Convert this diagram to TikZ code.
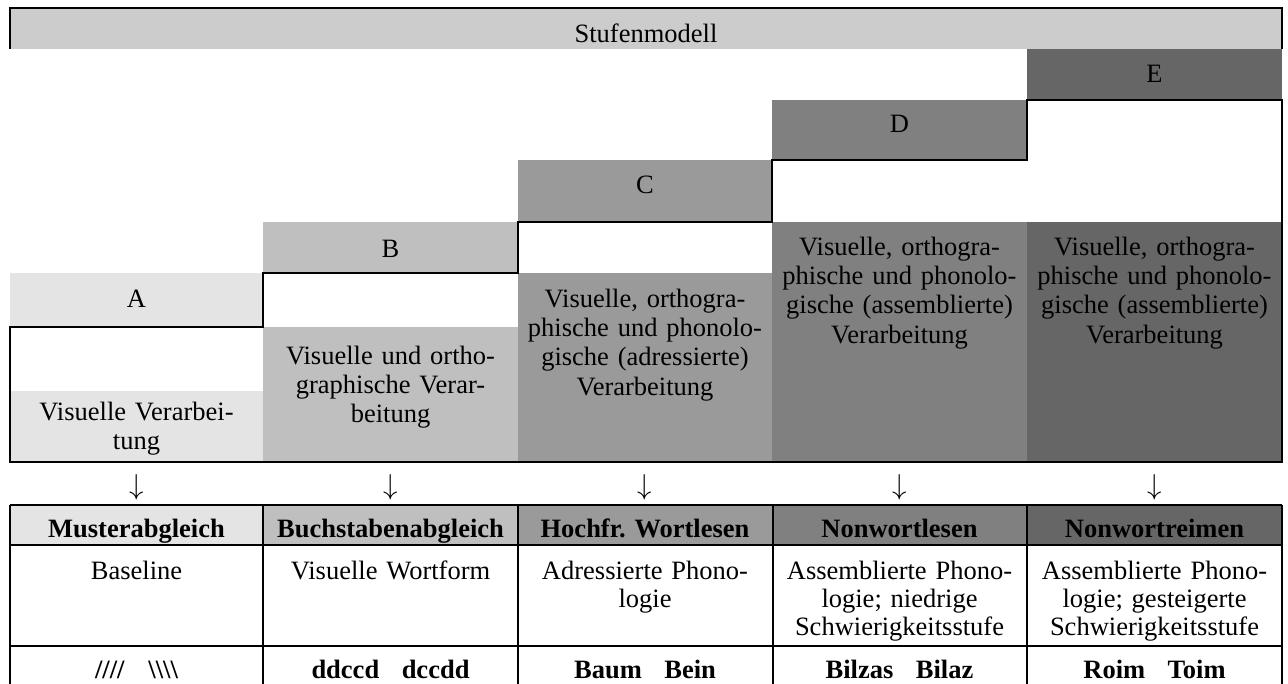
\documentclass[tikz,border=0pt]{standalone}
\usepackage{fontspec}
\setmainfont{Liberation Serif}
\definecolor{barTop}{HTML}{CCCCCC}
\definecolor{stA}{HTML}{E4E4E4}
\definecolor{stB}{HTML}{BFBFBF}
\definecolor{stC}{HTML}{9A9A9A}
\definecolor{stD}{HTML}{808080}
\definecolor{stE}{HTML}{666666}
\begin{document}
\begin{tikzpicture}[x=0.5pt,y=-0.5pt,
  txt/.style={font=\fontsize{13.25}{14.7}\selectfont, inner sep=0pt},
  cell/.style={txt, anchor=base, align=center, text width=124pt},
  tcell/.style={cell, font=\fontsize{13.25}{14.2}\selectfont},
  hcell/.style={txt, anchor=base, font=\fontsize{13.25}{14.7}\selectfont\bfseries},
  letter/.style={txt, anchor=base},
  arr/.style={inner sep=0pt, anchor=center, font=\fontsize{15.5}{16}\selectfont},
  frame/.style={line width=1pt, line join=miter},
  grid/.style={line width=1.2pt}]
\useasboundingbox (0,0) rectangle (1288,684);

% title bar
\fill[barTop] (10,8) rectangle (1282,49);
\draw[frame] (10,49) -- (10,8) -- (1282,8) -- (1282,49);
\node[letter] (title) at (646,43) {Stufenmodell};

% stair bars with their letters
\fill[stA] (10,273) rectangle (263,327);
\fill[stB] (263,222) rectangle (518,273);
\fill[stC] (518,160) rectangle (772,222);
\fill[stD] (772,100) rectangle (1027,160);
\fill[stE] (1027,49) rectangle (1282,100);

% processing areas
\fill[stA] (10,391) rectangle (263,462);
\fill[stB] (263,327) rectangle (518,462);
\fill[stC] (518,273) rectangle (772,462);
\fill[stD] (772,222) rectangle (1027,462);
\fill[stE] (1027,222) rectangle (1282,462);

% staircase outline
\draw[frame] (10,462) -- (10,327) -- (263,327) -- (263,273) -- (518,273)
  -- (518,222) -- (772,222) -- (772,160) -- (1027,160) -- (1027,100)
  -- (1282,100) -- (1282,462) -- cycle;

\node[letter] (lA) at (136.5,307) {A};
\node[letter] (lB) at (390.5,257) {B};
\node[letter] (lC) at (645,193) {C};
\node[letter] (lD) at (899.5,133) {D};
\node[letter] (lE) at (1154.5,83) {E};

\node[cell] (cA) at (136.5,420) {Visuelle Verarbei-\\tung};
\node[cell] (cB) at (390.5,364) {Visuelle und ortho-\\graphische Verar-\\beitung};
\node[cell] (cC) at (645,307) {Visuelle, orthogra-\\phische und phonolo-\\gische (adressierte)\\Verarbeitung};
\node[cell] (cD) at (899.5,255) {Visuelle, orthogra-\\phische und phonolo-\\gische (assemblierte)\\Verarbeitung};
\node[cell] (cE) at (1154.5,255) {Visuelle, orthogra-\\phische und phonolo-\\gische (assemblierte)\\Verarbeitung};

% downward arrows
\node[arr] (arA) at (136.5,487) {$\downarrow$};
\node[arr] (arB) at (390.5,487) {$\downarrow$};
\node[arr] (arC) at (645,487) {$\downarrow$};
\node[arr] (arD) at (899.5,487) {$\downarrow$};
\node[arr] (arE) at (1154.5,487) {$\downarrow$};

% task table
\fill[stA] (10,505) rectangle (263,545);
\fill[stB] (263,505) rectangle (518,545);
\fill[stC] (518,505) rectangle (773,545);
\fill[stD] (773,505) rectangle (1027,545);
\fill[stE] (1027,505) rectangle (1282,545);
\draw[grid] (10,505) -- (1282,505);
\draw[grid] (10,545) -- (1282,545);
\draw[grid] (10,646) -- (1282,646);
\foreach \gx in {10,263,518,773,1027,1282}
  \draw[grid] (\gx,505) -- (\gx,684);

\node[hcell] (hA) at (136.5,537) {Musterabgleich};
\node[hcell] (hB) at (390.5,537) {Buchstabenabgleich};
\node[hcell] (hC) at (645,537) {Hochfr. Wortlesen};
\node[hcell] (hD) at (899.5,537) {Nonwortlesen};
\node[hcell] (hE) at (1154.5,537) {Nonwortreimen};

\node[tcell] (dA) at (136.5,579) {Baseline};
\node[tcell] (dB) at (390.5,579) {Visuelle Wortform};
\node[tcell] (dC) at (645,579) {Adressierte Phono-\\logie};
\node[tcell] (dD) at (899.5,579) {Assemblierte Phono-\\logie; niedrige\\Schwierigkeitsstufe};
\node[tcell] (dE) at (1154.5,579) {Assemblierte Phono-\\logie; gesteigerte\\Schwierigkeitsstufe};

\node[hcell] (eA) at (136.5,678) {////\hspace{0.9em}\textbackslash\textbackslash\textbackslash\textbackslash};
\node[hcell] (eB) at (390.5,678) {ddccd\hspace{0.85em}dccdd};
\node[hcell] (eC) at (645,678) {Baum\hspace{0.85em}Bein};
\node[hcell] (eD) at (899.5,678) {Bilzas\hspace{0.85em}Bilaz};
\node[hcell] (eE) at (1154.5,678) {Roim\hspace{0.85em}Toim};
\end{tikzpicture}
\end{document}
